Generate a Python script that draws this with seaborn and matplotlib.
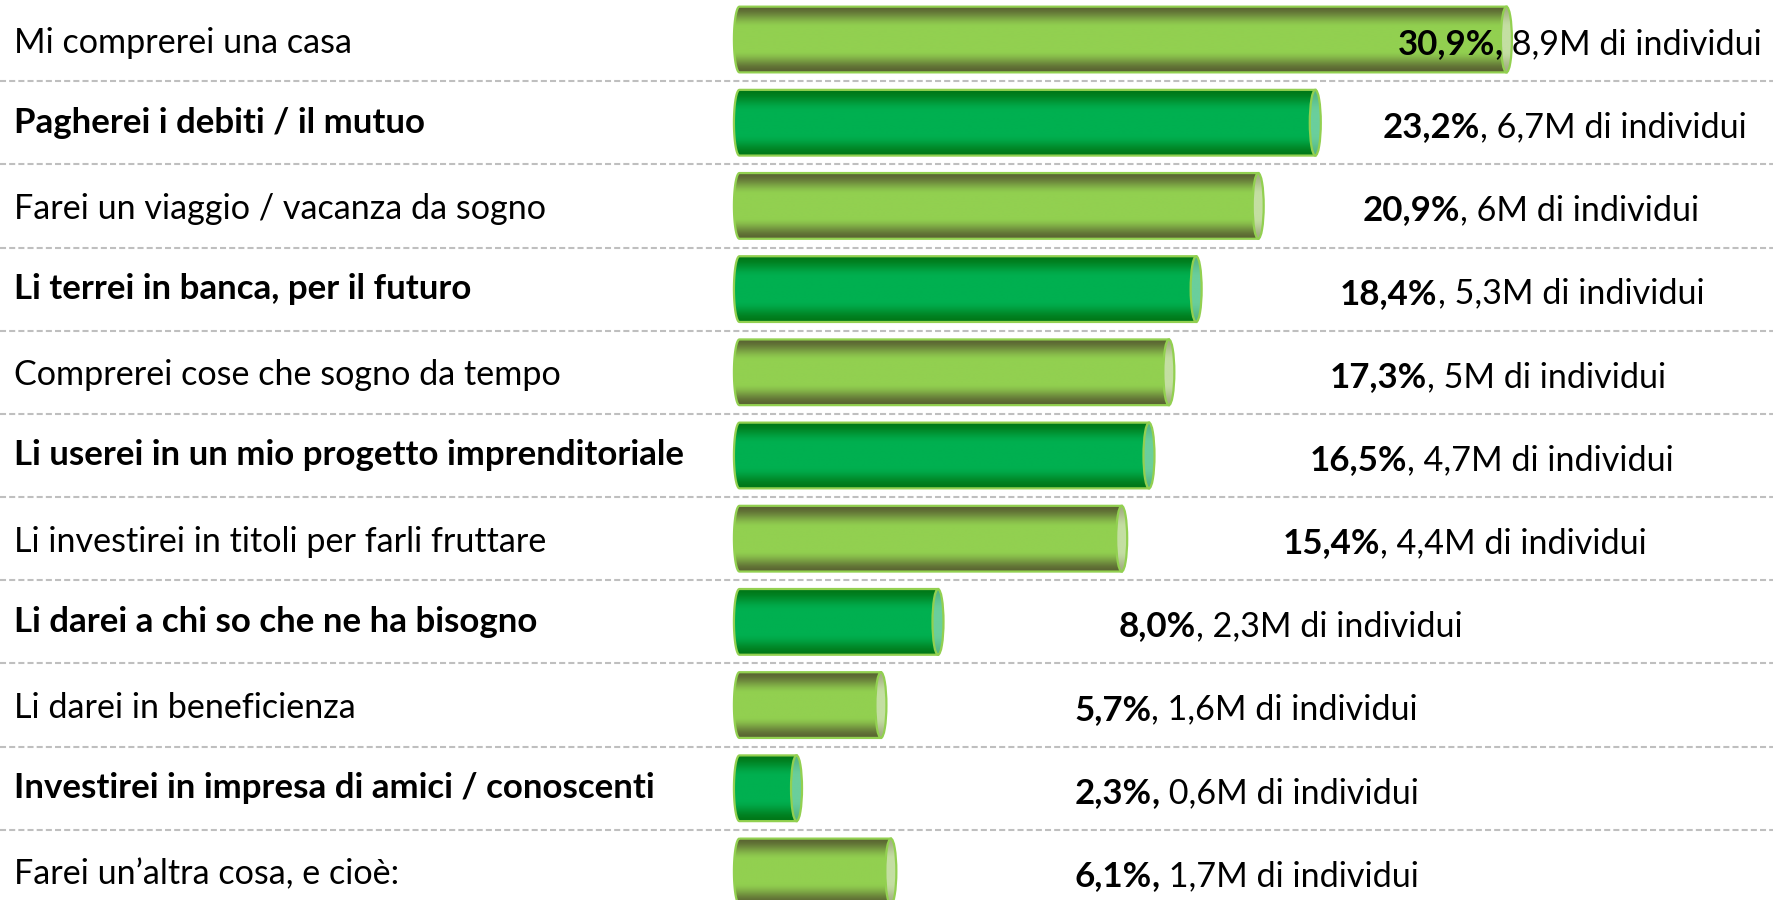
import numpy as np
import matplotlib
matplotlib.use("Agg")
import matplotlib.pyplot as plt
import seaborn as sns
from matplotlib.path import Path
from matplotlib.patches import PathPatch, Ellipse
from matplotlib.colors import to_rgb
import matplotlib.transforms as mtransforms

# ---- data ----
categories = [
    "Mi comprerei una casa",
    "Pagherei i debiti / il mutuo",
    "Farei un viaggio / vacanza da sogno",
    "Li terrei in banca, per il futuro",
    "Comprerei cose che sogno da tempo",
    "Li userei in un mio progetto imprenditoriale",
    "Li investirei in titoli per farli fruttare",
    "Li darei a chi so che ne ha bisogno",
    "Li darei in beneficienza",
    "Investirei in impresa di amici / conoscenti",
    "Farei un\u2019altra cosa, e cio\u00e8:",
]
values = [30.9, 23.2, 20.9, 18.4, 17.3, 16.5, 15.4, 8.0, 5.7, 2.3, 6.1]
pct_labels = ["30,9%", "23,2%", "20,9%", "18,4%", "17,3%", "16,5%",
              "15,4%", "8,0%", "5,7%", "2,3%", "6,1%"]
bold_comma = [True, False, False, False, False, False, False, False, False, True, True]
people_labels = ["8,9M di individui", "6,7M di individui", "6M di individui",
                 "5,3M di individui", "5M di individui", "4,7M di individui",
                 "4,4M di individui", "2,3M di individui", "1,6M di individui",
                 "0,6M di individui", "1,7M di individui"]

sns.set_theme(style="white")
plt.rcParams["font.family"] = ["Lato", "DejaVu Sans"]

W, H, DPI = 1773, 900, 100
fig = plt.figure(figsize=(W / DPI, H / DPI), dpi=DPI)
ax = fig.add_axes([0, 0, 1, 1])

sns.barplot(x=values, y=categories, orient="h", width=0.79, color="#92D050", ax=ax)

ax.set_xlim(-29.79, 41.64)
ax.set_ylim(10.343, -0.475)
ax.axis("off")

# separators
for i in range(len(categories) - 1):
    ax.axhline(i + 0.5, color="#BFBFBF", lw=1.5, linestyle=(0, (2.9, 1.5)), zorder=1)

styles = {
    0: dict(dark="#5A6432", light="#92D050", cap_c="#C4DFA2", cap_e="#A3AE84"),
    1: dict(dark="#007818", light="#00B050", cap_c="#6ACF9C", cap_e="#55B585"),
}

def profile(n, dark, light):
    t = np.linspace(0, 1, n)
    s = np.abs(t - 0.5) * 2
    f = np.clip((1 - s) / 0.65, 0, 1)
    f = f * f * (3 - 2 * f)
    d = np.array(to_rgb(dark)); l = np.array(to_rgb(light))
    return d[None, :] + (l - d)[None, :] * f[:, None]

a = 0.2216  # ellipse half-width (data units)
for i, p in enumerate(list(ax.patches)):
    x0, y0 = p.get_x(), p.get_y()
    w, h = p.get_width(), p.get_height()
    x1 = x0 + w
    yc = y0 + h / 2
    p.set_visible(False)
    st = styles[i % 2]
    verts = [(x0, y0), (x1, y0), (x1, y0 + h), (x0, y0 + h)]
    tt = np.linspace(0, np.pi, 40)
    verts += list(zip(x0 - a * np.sin(tt), (y0 + h) - h * (1 - np.cos(tt)) / 2))
    verts.append((x0, y0))
    codes = [Path.MOVETO] + [Path.LINETO] * (len(verts) - 2) + [Path.CLOSEPOLY]
    body = PathPatch(Path(verts, codes), facecolor="none", edgecolor="#92D050",
                     lw=1.6, zorder=3)
    ax.add_patch(body)
    grad = profile(200, st["dark"], st["light"])[:, None, :]
    im = ax.imshow(grad, extent=(x0 - a, x1, y0 + h, y0), aspect="auto",
                   interpolation="bilinear", zorder=2)
    im.set_clip_path(body)
    cap_grad = profile(200, st["cap_e"], st["cap_c"])[:, None, :]
    cap = Ellipse((x1, yc), 2 * a, h, facecolor="none", edgecolor="#92D050",
                  lw=1.6, zorder=5)
    ax.add_patch(cap)
    im2 = ax.imshow(cap_grad, extent=(x1 - a, x1 + a, y0 + h, y0), aspect="auto",
                    interpolation="bilinear", zorder=4)
    im2.set_clip_path(cap)

fig.canvas.draw()
renderer = fig.canvas.get_renderer()

def text_width_px(s, size, weight):
    t = fig.text(0, 0, s, fontsize=size, fontweight=weight)
    wpx = t.get_window_extent(renderer).width
    t.remove()
    return wpx

# font sizes fitted to the reference text widths
FS_N = 20 * 339 / text_width_px(categories[0], 20, "normal")
FS_B = 20 * 671 / text_width_px(categories[5], 20, "bold")
px_per_unit = ax.transData.transform((1, 0))[0] - ax.transData.transform((0, 0))[0]
px_per_row = abs(ax.transData.transform((0, 1))[1] - ax.transData.transform((0, 0))[1])

# category labels
trans = mtransforms.blended_transform_factory(ax.transAxes, ax.transData)
for i, c in enumerate(categories):
    bold = i % 2 == 1
    off = (10 if bold else 13) / px_per_row
    ax.text(13.5 / W, i + off, c, transform=trans, ha="left", va="baseline",
            fontsize=FS_B if bold else FS_N,
            fontweight="bold" if bold else "normal", color="black", zorder=6)

# value labels
yoff = 14.5 / px_per_row
for i, v in enumerate(values):
    bx = float(np.clip(min(v + 10.4, 21.5 + 0.36 * v), 16.6, 30.44))
    yb = i + yoff
    ax.text(bx, yb, pct_labels[i], ha="right", va="baseline", fontsize=FS_B,
            fontweight="bold", color="black", zorder=6)
    if bold_comma[i]:
        cw = text_width_px(",", FS_B, "bold") / px_per_unit
        ax.text(bx, yb, ",", ha="left", va="baseline", fontsize=FS_B,
                fontweight="bold", color="black", zorder=6)
        ax.text(bx + cw, yb, " " + people_labels[i], ha="left", va="baseline",
                fontsize=FS_N, color="black", zorder=6)
    else:
        ax.text(bx, yb, ", " + people_labels[i], ha="left", va="baseline",
                fontsize=FS_N, color="black", zorder=6)

fig.savefig("out.png", dpi=DPI)
